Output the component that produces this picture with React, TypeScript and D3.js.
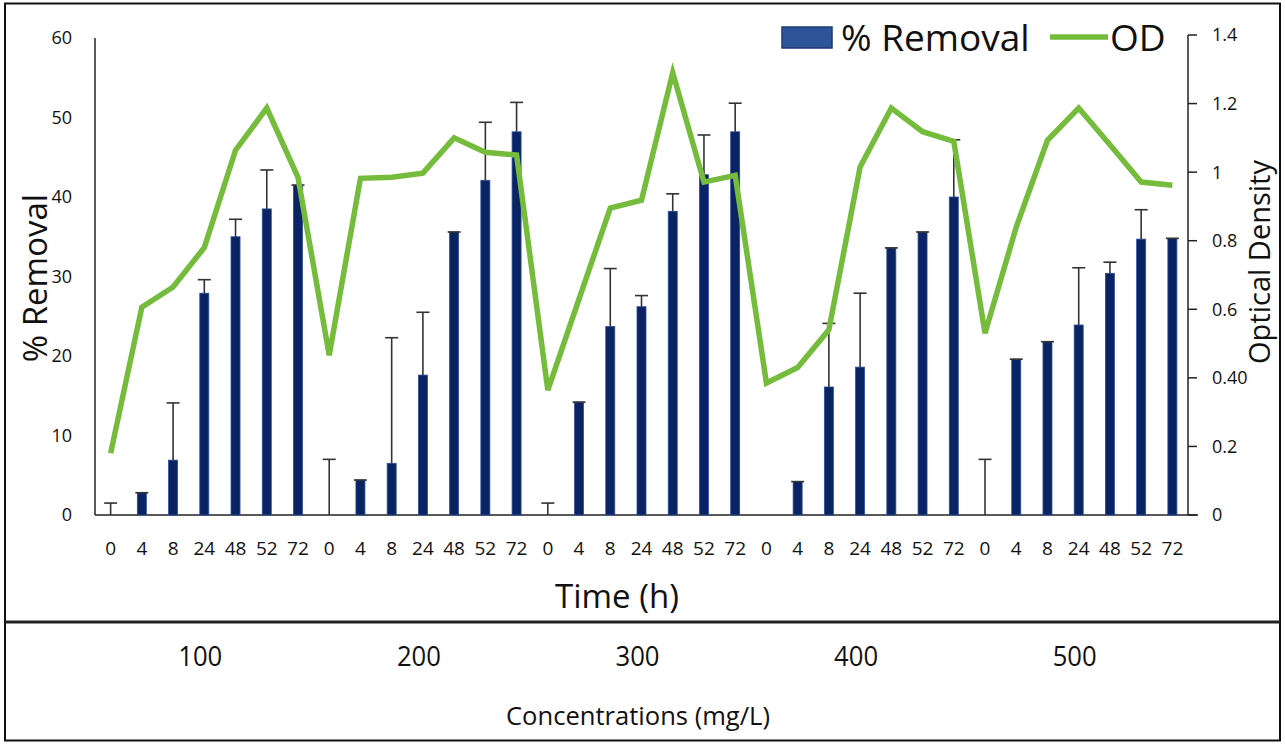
import React from "react";
import * as d3 from "d3";

const concentrations = ["100", "200", "300", "400", "500"];
const times = ["0", "4", "8", "24", "48", "52", "72"];

// % Removal per concentration group (7 time points each)
const removal100 = [0, 2.8, 6.9, 27.9, 35.0, 38.5, 41.5];
const removal200 = [0, 4.4, 6.5, 17.6, 35.6, 42.1, 48.2];
const removal300 = [0, 14.2, 23.7, 26.2, 38.2, 42.8, 48.2];
const removal400 = [0, 4.2, 16.1, 18.6, 33.6, 35.6, 40.0];
const removal500 = [0, 19.6, 21.8, 23.9, 30.4, 34.7, 34.8];

// upper end of error bars (null = none)
const errTop100 = [1.5, 2.8, 14.1, 29.6, 37.2, 43.4, 41.5];
const errTop200 = [7.0, 4.4, 22.3, 25.5, 35.6, 49.4, 51.9];
const errTop300 = [1.5, 14.2, 31.0, 27.6, 40.4, 47.8, 51.8];
const errTop400 = [null, 4.2, 24.1, 27.9, 33.6, 35.6, 47.2];
const errTop500 = [7.0, 19.6, 21.8, 31.1, 31.8, 38.4, 34.8];

// Optical density
const od100 = [0.18, 0.606, 0.665, 0.78, 1.064, 1.187, 0.985];
const od200 = [0.466, 0.982, 0.985, 0.997, 1.10, 1.058, 1.05];
const od300 = [0.364, 0.63, 0.895, 0.918, 1.29, 0.971, 0.991];
const od400 = [0.385, 0.43, 0.54, 1.015, 1.187, 1.118, 1.09];
const od500 = [0.53, 0.84, 1.093, 1.187, 1.08, 0.971, 0.962];

const leftTicks = [0, 10, 20, 30, 40, 50, 60];
const rightTicks = [0, 0.2, 0.4, 0.6, 0.8, 1, 1.2, 1.4];
const rightTickLabels = ["0", "0.2", "0.40", "0.6", "0.8", "1", "1.2", "1.4"];

const removalGroups = [removal100, removal200, removal300, removal400, removal500];
const errGroups = [errTop100, errTop200, errTop300, errTop400, errTop500];
const odGroups = [od100, od200, od300, od400, od500];

type Row = { key: string; time: string; group: number; removal: number; err: number | null; od: number };

const rows: Row[] = [];
concentrations.forEach((c, g) => {
  times.forEach((t, i) => {
    rows.push({
      key: `${c}-${t}`,
      time: t,
      group: g,
      removal: removalGroups[g][i],
      err: errGroups[g][i],
      od: odGroups[g][i],
    });
  });
});

const FONT = "'Open Sans', 'Noto Sans', sans-serif";

export default function App() {
  const W = 1285;
  const H = 744;
  const x0 = 95;
  const x1 = 1188;
  const yTop = 38;
  const yBot = 515;

  const x = d3.scaleBand<string>().domain(rows.map((r) => r.key)).range([x0, x1]).padding(0);
  const yL = d3.scaleLinear().domain([0, 60]).range([yBot, yTop]);
  const yR = d3.scaleLinear().domain([0, 1.4]).range([yBot, 35]);
  const cx = (k: string) => (x(k) as number) + x.bandwidth() / 2;

  const line = d3
    .line<Row>()
    .x((d) => cx(d.key))
    .y((d) => yR(d.od))
    .curve(d3.curveLinear);

  const barW = 9;
  const capW = 13;

  const groupCenter = (g: number) => {
    const ks = rows.filter((r) => r.group === g).map((r) => cx(r.key));
    return d3.mean(ks) as number;
  };

  return (
    <svg
      width={W}
      height={H}
      style={{ position: "absolute", left: 0, top: 0, background: "#fff" }}
      fontFamily={FONT}
    >
      <rect x={0} y={0} width={W} height={H} fill="#fff" />
      {/* frame */}
      <rect x={5} y={3.5} width={1275} height={737} fill="none" stroke="#111" strokeWidth={2} />
      <line x1={5} x2={1280} y1={622} y2={622} stroke="#222" strokeWidth={3} />

      {/* axes */}
      <line x1={x0} x2={x0} y1={yTop} y2={yBot} stroke="#222" strokeWidth={1.5} />
      <line x1={x0} x2={x1 + 10} y1={yBot} y2={yBot} stroke="#222" strokeWidth={1.5} />
      <line x1={x1} x2={x1} y1={35} y2={yBot} stroke="#222" strokeWidth={1.5} />
      {rightTicks.map((t, i) => (
        <g key={`rt${i}`}>
          <line x1={x1} x2={x1 + 9} y1={yR(t)} y2={yR(t)} stroke="#222" strokeWidth={1.5} />
          <text x={1212} y={yR(t)} dy="0.36em" fontSize={18} fill="#111">
            {rightTickLabels[i]}
          </text>
        </g>
      ))}
      {leftTicks.map((t) => (
        <text key={`lt${t}`} x={72} y={yL(t)} dy="0.36em" fontSize={18} fill="#111" textAnchor="end">
          {t}
        </text>
      ))}

      {/* bars */}
      {rows.map((r) => (
        <rect
          key={`b${r.key}`}
          x={cx(r.key) - barW / 2}
          y={yL(r.removal)}
          width={barW}
          height={yBot - yL(r.removal)}
          fill="#0a2463"
          stroke="#2c4c9c"
          strokeWidth={0.8}
        />
      ))}
      {/* error bars */}
      {rows
        .filter((r) => r.err !== null)
        .map((r) => (
          <g key={`e${r.key}`} stroke="#333" strokeWidth={1.6}>
            <line x1={cx(r.key)} x2={cx(r.key)} y1={yL(r.removal)} y2={yL(r.err as number)} />
            <line
              x1={cx(r.key) - capW / 2}
              x2={cx(r.key) + capW / 2}
              y1={yL(r.err as number)}
              y2={yL(r.err as number)}
            />
          </g>
        ))}

      {/* OD line */}
      <path d={line(rows) as string} fill="none" stroke="#76bc3c" strokeWidth={5.5} strokeLinejoin="miter" />

      {/* x tick labels */}
      {rows.map((r) => (
        <text key={`xl${r.key}`} x={cx(r.key)} y={548} dy="0.36em" fontSize={19} textAnchor="middle" fill="#111">
          {r.time}
        </text>
      ))}
      <text x={617} y={596} dy="0.36em" fontSize={33} textAnchor="middle" fill="#111">
        Time (h)
      </text>

      {/* axis titles */}
      <text
        transform={`translate(35,278) rotate(-90)`}
        fontSize={33}
        textAnchor="middle"
        dy="0.36em"
        fill="#111"
      >
        % Removal
      </text>
      <text
        transform={`translate(1260,262) rotate(-90)`}
        fontSize={29}
        textAnchor="middle"
        dy="0.36em"
        fill="#111"
      >
        Optical Density
      </text>

      {/* legend */}
      <rect x={782} y={27} width={50} height={21} fill="#2e5597" stroke="#1b3877" strokeWidth={1.5} />
      <text x={841} y={38} dy="0.36em" fontSize={37} fill="#111">
        % Removal
      </text>
      <line x1={1050} x2={1108} y1={37} y2={37} stroke="#76bc3c" strokeWidth={5.5} />
      <text x={1110} y={38} dy="0.36em" fontSize={37} fill="#111">
        OD
      </text>

      {/* concentration row */}
      {concentrations.map((c, g) => (
        <text
          key={`c${c}`}
          x={groupCenter(g) - 4}
          y={656}
          dy="0.36em"
          fontSize={27}
          textLength={44}
          lengthAdjust="spacingAndGlyphs"
          textAnchor="middle"
          fill="#111"
        >
          {c}
        </text>
      ))}
      <text
        x={638}
        y={716}
        dy="0.36em"
        fontSize={26}
        textLength={264}
        lengthAdjust="spacingAndGlyphs"
        textAnchor="middle"
        fill="#111"
      >
        Concentrations (mg/L)
      </text>
    </svg>
  );
}
